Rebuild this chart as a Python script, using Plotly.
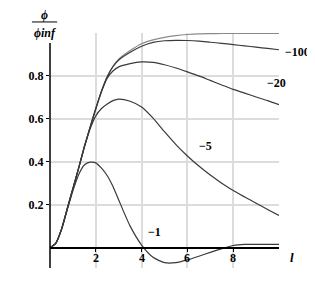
import plotly.graph_objects as go

x_vals = [0, 0.25, 0.5, 0.75, 1, 1.25, 1.5, 1.75, 2, 2.25, 2.5, 2.75, 3, 3.5, 4,
          4.5, 5, 5.5, 6, 6.5, 7, 7.5, 8, 8.5, 9, 9.5, 10]

phi_inf = [0, 0.02, 0.085, 0.18, 0.275, 0.37, 0.47, 0.56, 0.648, 0.73, 0.797, 0.845, 0.878, 0.918, 0.950,
           0.968, 0.980, 0.988, 0.993, 0.996, 0.997, 0.998, 0.998, 0.998, 0.998, 0.998, 0.998]
phi_m100 = [0, 0.02, 0.085, 0.18, 0.275, 0.37, 0.47, 0.56, 0.648, 0.73, 0.796, 0.843, 0.874, 0.91, 0.938,
            0.956, 0.964, 0.966, 0.965, 0.962, 0.957, 0.952, 0.946, 0.94, 0.934, 0.928, 0.922]
phi_m20 = [0, 0.02, 0.085, 0.18, 0.275, 0.37, 0.47, 0.56, 0.647, 0.727, 0.79, 0.823, 0.842, 0.857, 0.865,
           0.863, 0.852, 0.837, 0.819, 0.8, 0.779, 0.758, 0.737, 0.72, 0.702, 0.685, 0.666]
phi_m5 = [0, 0.02, 0.085, 0.18, 0.275, 0.37, 0.468, 0.553, 0.614, 0.648, 0.669, 0.685, 0.692, 0.682, 0.655,
          0.603, 0.54, 0.48, 0.427, 0.38, 0.338, 0.30, 0.266, 0.236, 0.207, 0.178, 0.15]
phi_m1 = [0, 0.02, 0.083, 0.175, 0.265, 0.34, 0.385, 0.398, 0.395, 0.37, 0.335, 0.285, 0.222, 0.10, 0.012,
          -0.045, -0.07, -0.07, -0.057, -0.04, -0.022, -0.005, 0.01, 0.015, 0.015, 0.015, 0.015]

series = [
    ("inf", phi_inf, "#8a8a8a"),
    ("−100", phi_m100, "#3a3a3a"),
    ("−20", phi_m20, "#3a3a3a"),
    ("−5", phi_m5, "#3a3a3a"),
    ("−1", phi_m1, "#3a3a3a"),
]

label_text = ["−100", "−20", "−5", "−1"]
label_x = [10.17, 9.39, 6.43, 4.2]
label_y = [0.91, 0.766, 0.473, 0.073]

x_ticks = [2, 4, 6, 8]
x_tick_labels = ["2", "4", "6", "8"]
y_ticks = [0.2, 0.4, 0.6, 0.8]
y_tick_labels = ["0.2", "0.4", "0.6", "0.8"]

X_RANGE = [0, 10]
Y_RANGE = [-0.095, 1.0]

SERIF = "Liberation Serif"

fig = go.Figure()
for name, ys, col in series:
    fig.add_trace(go.Scatter(x=x_vals, y=ys, mode="lines", name=name,
                             line=dict(color=col, width=1.2, shape="spline", smoothing=0.6),
                             showlegend=False, hoverinfo="skip"))

def to_px(v):
    return (v - X_RANGE[0]) / (X_RANGE[1] - X_RANGE[0])

def to_py(v):
    return (v - Y_RANGE[0]) / (Y_RANGE[1] - Y_RANGE[0])

annotations = []
for t, lx, ly in zip(label_text, label_x, label_y):
    annotations.append(dict(x=to_px(lx), y=to_py(ly), xref="paper", yref="paper",
                            text="<b>" + t + "</b>", showarrow=False,
                            font=dict(family=SERIF, size=12, color="black"),
                            xanchor="left", yanchor="middle"))

# x tick labels sit just under the y=0 axis line
for v, t in zip(x_ticks, x_tick_labels):
    annotations.append(dict(x=v, y=0, xref="x", yref="y", text="<b>" + t + "</b>",
                            showarrow=False, xanchor="center", yanchor="top", yshift=-1,
                            font=dict(family=SERIF, size=12, color="black")))

annotations += [
    dict(x=-0.024, y=1.078, xref="paper", yref="paper", text="<b><i>ϕ</i></b>", showarrow=False,
         font=dict(family=SERIF, size=12, color="black"),
         xanchor="center", yanchor="middle"),
    dict(x=-0.024, y=1.0, xref="paper", yref="paper", text="<b><i>ϕinf</i></b>", showarrow=False,
         font=dict(family=SERIF, size=12, color="black"),
         xanchor="center", yanchor="middle"),
    dict(x=1.055, y=0.045, xref="paper", yref="paper", text="<b><i>l</i></b>", showarrow=False,
         font=dict(family=SERIF, size=13, color="black"),
         xanchor="center", yanchor="middle"),
]

shapes = [
    dict(type="line", xref="paper", yref="paper", x0=-0.079, x1=0.031, y0=1.047, y1=1.047,
         line=dict(color="black", width=1)),
    dict(type="line", xref="x domain", yref="y domain", x0=0, x1=0, y0=0, y1=0.957,
         line=dict(color="black", width=1.5)),
]

fig.update_layout(
    width=307, height=287,
    margin=dict(l=42, r=36, t=25, b=27, autoexpand=False),
    paper_bgcolor="white", plot_bgcolor="white",
    font=dict(family=SERIF),
    annotations=annotations, shapes=shapes,
    xaxis=dict(range=X_RANGE, tickvals=x_ticks, showticklabels=False,
               showgrid=True, gridcolor="#dcdcdc", gridwidth=1.5,
               zeroline=False, anchor="free", position=to_py(0),
               showline=True, linecolor="black", linewidth=1.5,
               ticks="outside", ticklen=4, tickcolor="black", tickwidth=1,
               automargin=False),
    yaxis=dict(range=Y_RANGE, tickvals=y_ticks, ticktext=["<b>%s</b>" % t for t in y_tick_labels],
               showgrid=True, gridcolor="#dcdcdc", gridwidth=1.5,
               zeroline=False, showline=False,
               ticks="outside", ticklen=3, tickcolor="black", tickwidth=1,
               ticklabelstandoff=0, automargin=False,
               tickfont=dict(family=SERIF, size=12, color="black")),
)

fig.write_html("out.html")
